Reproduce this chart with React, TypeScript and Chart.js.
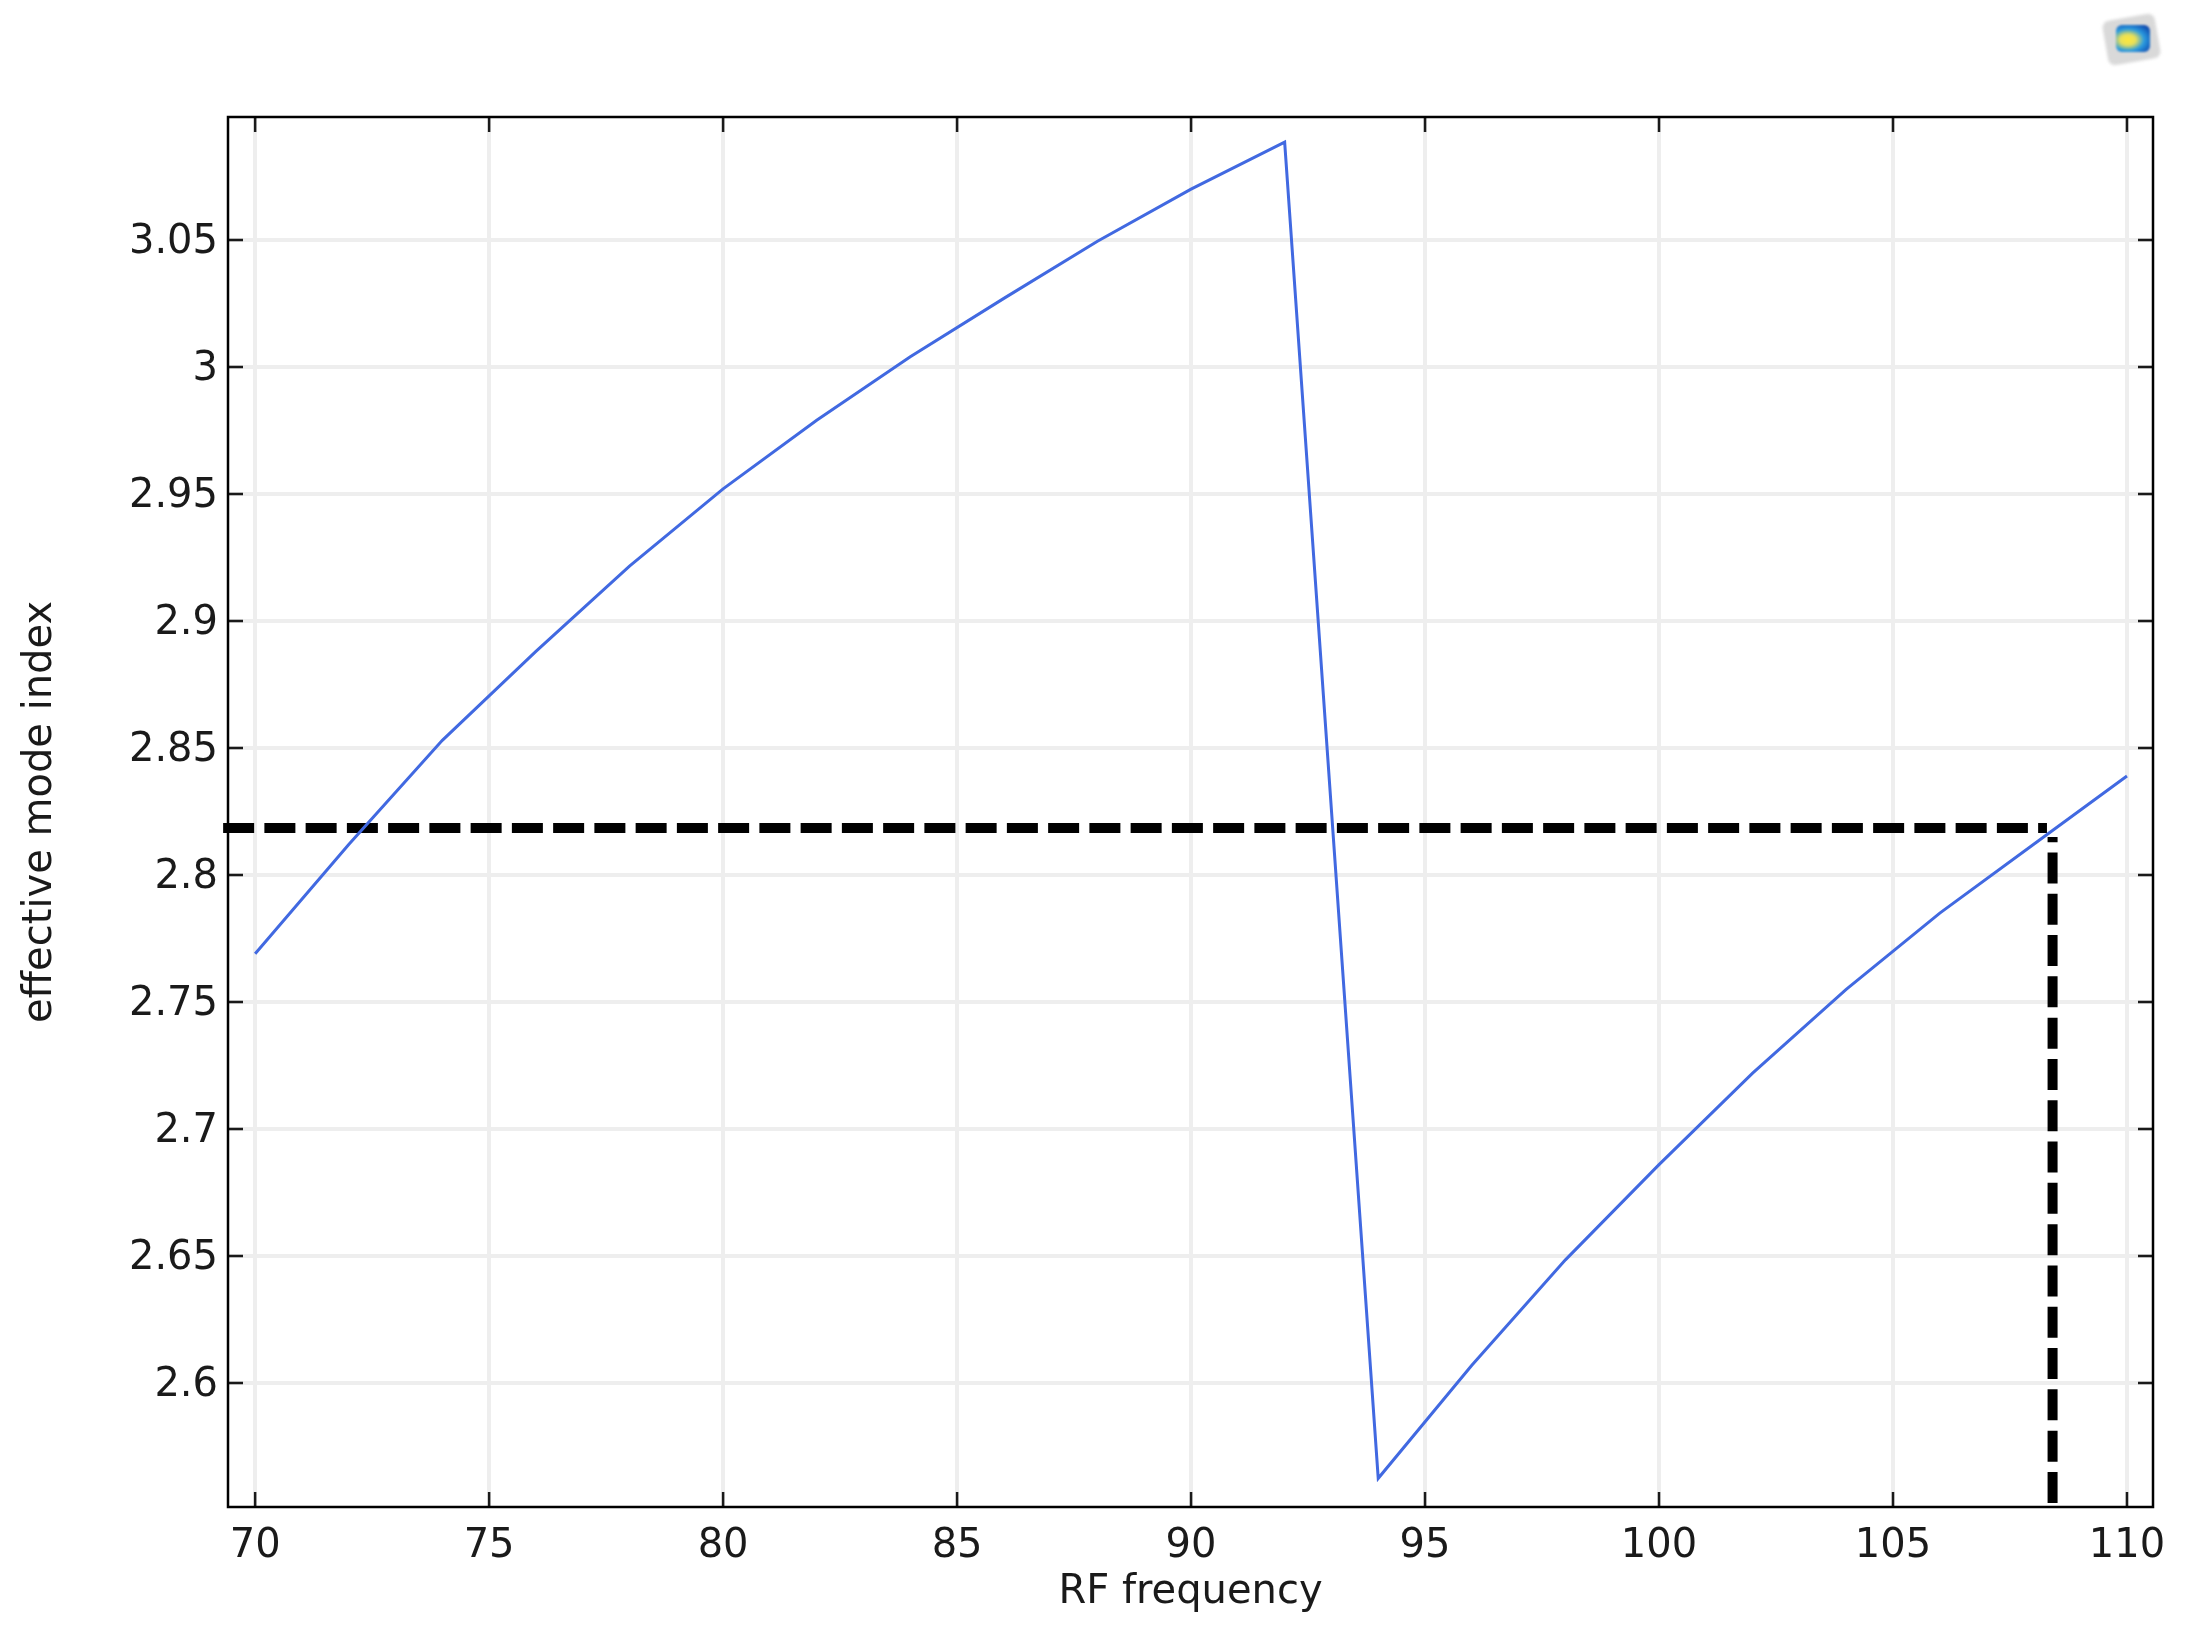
import { useEffect, useRef } from 'react'
import { Chart, registerables } from 'chart.js'
import type { Plugin } from 'chart.js'

Chart.register(...registerables)

const frequency = [70, 72, 74, 76, 78, 80, 82, 84, 86, 88, 90, 92, 94, 96, 98, 100, 102, 104, 106, 108, 110]
const modeIndex = [
  2.769, 2.812, 2.853, 2.888, 2.9216, 2.952, 2.979, 3.004, 3.027, 3.0495, 3.07, 3.0885,
  2.5625, 2.607, 2.6485, 2.686, 2.722, 2.755, 2.785, 2.812, 2.839
]
const xTicks = [70, 75, 80, 85, 90, 95, 100, 105, 110]
const yTicks = [2.6, 2.65, 2.7, 2.75, 2.8, 2.85, 2.9, 2.95, 3, 3.05]

const xMin = 69.42
const xMax = 110.556
const yMin = 2.5512
const yMax = 3.0984

// crossing where the mode index meets the target value
const guideX = [69.316, 108.29]
const guideY = 2.8185
const dropX = 108.41
const dropY = [2.5528, 2.815]

const FONT = 'DejaVu Sans'
const INK = '#1a1a1a'

// inward ticks on all four sides, like the COMSOL plot frame
const frameTicks: Plugin<'line'> = {
  id: 'frameTicks',
  beforeDraw(chart) {
    // digits sit a little low against their ticks in the reference
    chart.scales.y.getLabelItems().forEach((item: any) => {
      item.options.translation[1] += 3
    })
  },
  beforeDatasetsDraw(chart) {
    const { ctx, chartArea: a, scales } = chart
    const len = 15
    ctx.save()
    ctx.strokeStyle = INK
    ctx.lineWidth = 2.5
    ctx.beginPath()
    xTicks.forEach(v => {
      const px = scales.x.getPixelForValue(v)
      ctx.moveTo(px, a.bottom)
      ctx.lineTo(px, a.bottom - len)
      ctx.moveTo(px, a.top)
      ctx.lineTo(px, a.top + len)
    })
    yTicks.forEach(v => {
      const py = scales.y.getPixelForValue(v)
      ctx.moveTo(a.left, py)
      ctx.lineTo(a.left + len, py)
      ctx.moveTo(a.right, py)
      ctx.lineTo(a.right - len, py)
    })
    ctx.stroke()
    ctx.strokeStyle = '#000'
    ctx.strokeRect(a.left, a.top, a.right - a.left, a.bottom - a.top)
    ctx.restore()
  }
}

export default function App() {
  const canvasRef = useRef<HTMLCanvasElement>(null)

  useEffect(() => {
    if (!canvasRef.current) return
    const chart = new Chart(canvasRef.current, {
      type: 'line',
      data: {
        datasets: [
          {
            data: frequency.map((x, i) => ({ x, y: modeIndex[i] })),
            borderColor: '#4169e1',
            borderWidth: 3,
            pointRadius: 0,
            tension: 0
          },
          {
            data: guideX.map(x => ({ x, y: guideY })),
            borderColor: '#000',
            borderWidth: 10,
            borderDash: [31, 10.25],
            pointRadius: 0,
            clip: false
          },
          {
            data: dropY.map(y => ({ x: dropX, y })),
            borderColor: '#000',
            borderWidth: 10,
            borderDash: [31, 10.3],
            pointRadius: 0,
            clip: false
          }
        ]
      },
      options: {
        animation: false,
        responsive: false,
        devicePixelRatio: 1,
        layout: { padding: { top: 117, right: 42, left: 0, bottom: 0 } },
        plugins: { legend: { display: false }, tooltip: { enabled: false } },
        scales: {
          x: {
            type: 'linear',
            min: xMin,
            max: xMax,
            afterBuildTicks: s => {
              s.ticks = xTicks.map(value => ({ value }))
            },
            afterFit: s => {
              s.height = 130
            },
            grid: { color: '#eeeeee', lineWidth: 4, drawTicks: false },
            border: { display: false },
            ticks: {
              autoSkip: false,
              maxRotation: 0,
              padding: 16,
              color: INK,
              font: { family: FONT, size: 40 }
            },
            title: {
              display: true,
              text: 'RF frequency',
              color: INK,
              padding: { top: 0, bottom: 20 },
              font: { family: FONT, size: 40 }
            }
          },
          y: {
            type: 'linear',
            min: yMin,
            max: yMax,
            afterBuildTicks: s => {
              s.ticks = yTicks.map(value => ({ value }))
            },
            afterFit: s => {
              s.width = 228
            },
            grid: { color: '#eeeeee', lineWidth: 4, drawTicks: false },
            border: { display: false },
            ticks: {
              autoSkip: false,
              padding: 10,
              color: INK,
              font: { family: FONT, size: 40 },
              callback: v => String(v)
            },
            title: {
              display: true,
              text: 'effective mode index',
              color: INK,
              padding: { top: 17, bottom: 0 },
              font: { family: FONT, size: 40 }
            }
          }
        }
      },
      plugins: [frameTicks]
    })
    return () => chart.destroy()
  }, [])

  return (
    <div style={{ position: 'fixed', left: 0, top: 0, width: 2195, height: 1637, background: '#fff' }}>
      <canvas ref={canvasRef} width={2195} height={1637} style={{ display: 'block', filter: 'blur(0.7px)' }} />
      {/* small app logo in the corner */}
      <div
        style={{
          position: 'absolute', left: 2105, top: 17, width: 53, height: 45, borderRadius: 7,
          background: '#d9d9d9', transform: 'rotate(-10deg)', filter: 'blur(1.5px)'
        }}
      />
      <div
        style={{
          position: 'absolute', left: 2116, top: 25, width: 34, height: 27, borderRadius: 6,
          background: 'radial-gradient(ellipse at 35% 55%, #ffe83a 0%, #e8e05a 25%, #2a9be0 52%, #0a3fa8 90%)',
          filter: 'blur(1px)'
        }}
      />
    </div>
  )
}
